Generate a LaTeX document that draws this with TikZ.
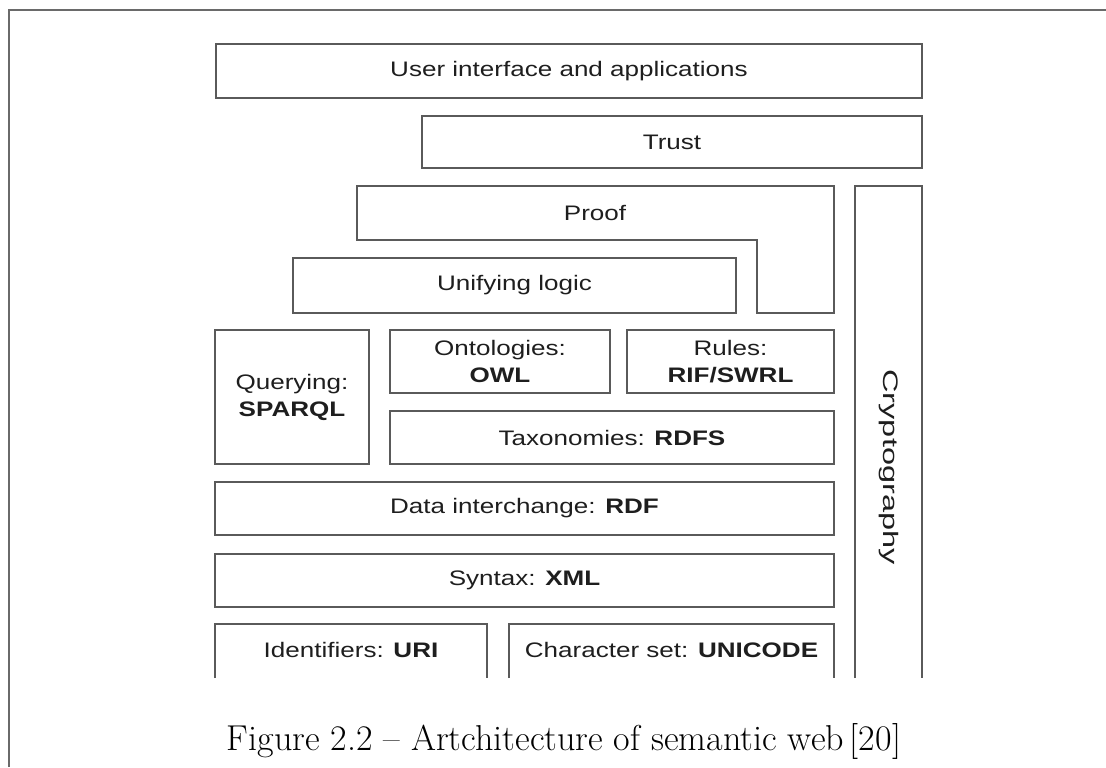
\documentclass[tikz,border=0pt]{standalone}
\usepackage{fontspec}
\usepackage{tikz}
\usetikzlibrary{positioning, calc}
\newfontfamily\diagfont{Liberation Sans}
\definecolor{boxgray}{HTML}{5A5A5A}
\definecolor{framegray}{HTML}{6A6A6A}
\definecolor{inkgray}{HTML}{1E1E1E}
% labels in the figure are set wide
\newcommand{\wtxt}[1]{\scalebox{1.24}[1]{#1}}

\begin{document}
\begin{tikzpicture}
            [x=0.5pt, y=-0.5pt, line width=0.9pt,
            layer/.style={rectangle, draw=boxgray, inner sep=0pt, align=center, text=inkgray, font=\diagfont\fontsize{10.5}{13.5}\selectfont},
            label text/.style={inner sep=0pt, align=center, text=inkgray, font=\diagfont\fontsize{10.5}{13.5}\selectfont},
            openbox/.style={draw=boxgray}]
            \useasboundingbox (0,0) rectangle (1106,767);
            \draw[framegray] (9,767) -- (9,10) -- (1106,10);

            \node[layer, minimum width=353pt, minimum height=27pt]   (ui)    at (569,71)    {\wtxt{User interface and applications}};
            \node[layer, minimum width=250pt, minimum height=26pt]   (trust) at (672,142)   {\wtxt{Trust}};
            \draw[openbox] (357,186) -- (834,186) -- (834,313) -- (757,313) -- (757,240) -- (357,240) -- cycle;
            \node[label text]                                        (proof) at (595,213)   {\wtxt{Proof}};
            \node[layer, minimum width=221.5pt, minimum height=27.5pt] (logic) at (514.5,285.5) {\wtxt{Unifying logic}};

            \draw[openbox] (855,678) -- (855,186) -- (922,186) -- (922,678);
            \node[label text, rotate=-90, xscale=1.55]               (crypto) at (889,467)  {Cryptography};

            \node[layer, minimum width=77pt, minimum height=67pt]    (sparql) at (292,397)  {\wtxt{Querying:}\\ \wtxt{\textbf{SPARQL}}};
            \node[layer, minimum width=110pt, minimum height=31.5pt] (owl)   at (500,361.5) {\wtxt{Ontologies:}\\ \wtxt{\textbf{OWL}}};
            \node[layer, minimum width=103.5pt, minimum height=31.5pt] (rif)  at (730.5,361.5) {\wtxt{Rules:}\\ \wtxt{\textbf{RIF/SWRL}}};
            \node[layer, minimum width=222pt, minimum height=26.5pt] (rdfs)  at (612,437.5) {\wtxt{Taxonomies: \textbf{RDFS}}};
            \node[layer, minimum width=309.5pt, minimum height=26.5pt] (rdf)  at (524.5,508.5) {\wtxt{Data interchange: \textbf{RDF}}};
            \node[layer, minimum width=309.5pt, minimum height=26.5pt] (xml)  at (524.5,580.5) {\wtxt{Syntax: \textbf{XML}}};

            \draw[openbox] (215,678) -- (215,624) -- (487,624) -- (487,678);
            \node[label text]                                        (uri)   at (351,650)   {\wtxt{Identifiers: \textbf{URI}}};
            \draw[openbox] (509,678) -- (509,624) -- (834,624) -- (834,678);
            \node[label text]                                        (unicode) at (671.5,650) {\wtxt{Character set: \textbf{UNICODE}}};

            \node[inner sep=0pt, font=\fontsize{18}{21}\selectfont] (caption) at (564,741) {Figure 2.2 -- Artchitecture of semantic web\,[20]};
        \end{tikzpicture}
\end{document}
